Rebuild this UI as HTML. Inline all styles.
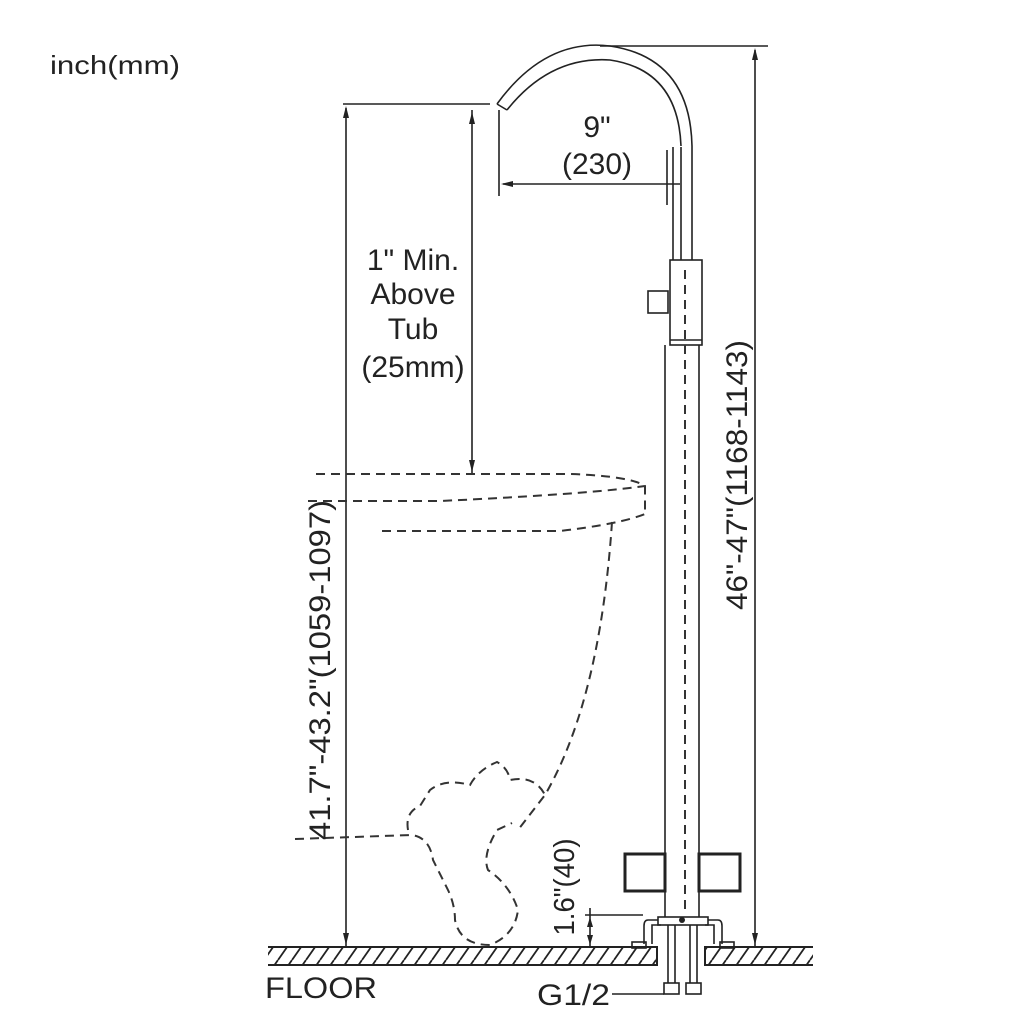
<!DOCTYPE html>
<html><head><style>body{margin:0;background:#fff}svg{display:block}text{font-family:"Liberation Sans",sans-serif;fill:#222}</style></head><body>
<svg width="1024" height="1024" viewBox="0 0 1024 1024" xmlns="http://www.w3.org/2000/svg">
<defs>
<pattern id="h" width="14" height="20" patternUnits="userSpaceOnUse"><path d="M-2 20 L12 0 M12 20 L26 0" stroke="#222" stroke-width="1.8"/></pattern>
</defs>
<text x="50" y="74" font-size="26" textLength="130" lengthAdjust="spacingAndGlyphs">inch(mm)</text>
<rect x="268" y="947" width="389" height="18" fill="url(#h)"/>
<rect x="705" y="947" width="108" height="18" fill="url(#h)"/>
<g stroke="#222" stroke-width="2" fill="none">
<path d="M268 947H657V965H268M813 947H705V965H813"/>
</g>
<text x="265" y="998" font-size="30" textLength="112" lengthAdjust="spacingAndGlyphs">FLOOR</text>
<text x="537" y="1005" font-size="30" textLength="73" lengthAdjust="spacingAndGlyphs">G1/2</text>
<g stroke="#222" stroke-width="1.6" fill="none">
<path d="M612 994H664"/>
<path d="M497 104 Q545 38 610 46 Q690 58 692 146 L692 260"/>
<path d="M507 110 Q550 56 610 60 Q678 70 681 146"/>
<path d="M497 104 L507 110"/>
<path d="M673 147V260M681 147V260M667 150V205"/>
<rect x="670" y="260" width="32" height="85"/>
<rect x="648" y="291" width="20" height="22"/>
<path d="M670 340H702"/>
<path d="M665 345V917M699 345V917"/>
<rect x="625" y="854" width="40" height="37" stroke-width="3"/>
<rect x="699" y="854" width="41" height="37" stroke-width="3"/>
<rect x="658" y="917" width="50" height="8"/>
<path d="M658 920H648Q644 920 644 926V944M661 925H652V944M708 920H718Q722 920 722 926V944M705 925H714V944"/>
<rect x="632" y="942" width="14" height="6"/><rect x="720" y="942" width="14" height="6"/>
<path d="M668 925V983M675 925V983M690 925V983M697 925V983"/>
<rect x="664" y="983" width="15" height="11"/><rect x="686" y="983" width="15" height="11"/>
<path d="M600 46H768M755 50V947"/>
<path d="M343 104H490M346 108V947M472 110V473"/>
<path d="M499 110V196M503 184H680"/>
<path d="M585 915H643M590 908V947"/>
</g>
<g fill="#222">
<path d="M755 48l-3 12h6z M755 945l-3-12h6z M346 106l-3 12h6z M346 945l-3-12h6z M472 112l-3 12h6z M472 472l-3-12h6z M501 184l12-3v6z M590 917l-3 10h6z M590 945l-3-10h6z"/>
<circle cx="682" cy="920" r="3"/>
</g>
<g stroke="#333" stroke-width="2" fill="none" stroke-dasharray="9 6">
<path d="M685 270V915"/>
<path d="M316 474H570Q630 476 645 486V515"/>
<path d="M308 501H440Q590 494 645 486"/>
<path d="M382 531H560Q620 524 645 514"/>
<path d="M612 522Q600 700 545 795L518 830"/>
<path d="M295 839L412 835Q430 838 433 860L448 890Q455 905 455 920Q460 945 490 945Q515 935 518 910Q510 885 488 870Q482 855 497 830L512 823"/>
<path d="M408 830Q405 812 420 806L430 790Q445 778 470 785Q478 770 497 762Q508 768 510 780Q535 775 545 795"/>
</g>
<text x="597" y="137" font-size="30" text-anchor="middle">9"</text>
<text x="597" y="174" font-size="30" text-anchor="middle">(230)</text>
<g font-size="30" text-anchor="middle">
<text x="413" y="270">1" Min.</text>
<text x="413" y="304">Above</text>
<text x="413" y="339">Tub</text>
<text x="413" y="377">(25mm)</text>
</g>
<text transform="translate(747,475) rotate(-90)" font-size="30" text-anchor="middle" textLength="270" lengthAdjust="spacingAndGlyphs">46"-47"(1168-1143)</text>
<text transform="translate(330,670) rotate(-90)" font-size="30" text-anchor="middle" textLength="340" lengthAdjust="spacingAndGlyphs">41.7"-43.2"(1059-1097)</text>
<text transform="translate(574,887) rotate(-90)" font-size="29" text-anchor="middle" textLength="97" lengthAdjust="spacingAndGlyphs">1.6"(40)</text>
</svg>
</body></html>
